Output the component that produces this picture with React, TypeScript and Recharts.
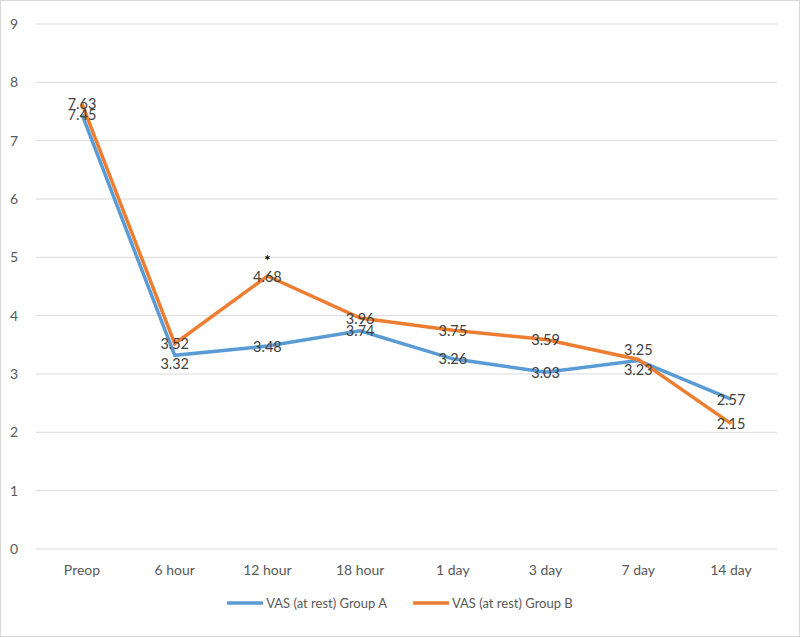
import React from "react";
import { LineChart, Line, XAxis, YAxis, CartesianGrid, Legend, LabelList } from "recharts";

const categories = ["Preop", "6 hour", "12 hour", "18 hour", "1 day", "3 day", "7 day", "14 day"];
const groupA = [7.45, 3.32, 3.48, 3.74, 3.26, 3.03, 3.23, 2.57];
const groupB = [7.63, 3.52, 4.68, 3.96, 3.75, 3.59, 3.25, 2.15];
const significance = ["", "", "*", "", "", "", "", ""];
const yTicks = [0, 1, 2, 3, 4, 5, 6, 7, 8, 9];

const NAME_A = "VAS (at rest) Group A";
const NAME_B = "VAS (at rest) Group B";
const BLUE = "#5B9BD5";
const ORANGE = "#ED7D31";
const FONT = "Lato, 'Open Sans', sans-serif";

const data = categories.map((c, i) => ({
  name: c,
  a: groupA[i],
  b: groupB[i],
  sig: significance[i],
}));

// push labels apart when the two series nearly coincide
const makeLabel = (own: number[], other: number[]) => (props: any) => {
  const { x, y, value, index } = props;
  if (x == null || y == null) return null;
  const diff = own[index] - other[index];
  let dy = 0;
  if (Math.abs(diff) < 0.1) dy = diff >= 0 ? -10 : 9;
  else if (index === 1 && diff < 0 && Math.abs(diff) < 0.25) dy = 8;
  return (
    <text x={x} y={y + dy} textAnchor="middle" dominantBaseline="central" fontSize={14.5} fill="#404040" fontFamily={FONT}>
      {Number(value).toFixed(2)}
    </text>
  );
};

const LabelA = makeLabel(groupA, groupB);
const LabelB = makeLabel(groupB, groupA);

const SigLabel = (props: any) => {
  const { x, y, value } = props;
  if (!value) return null;
  return (
    <text x={x} y={y - 16} textAnchor="middle" dominantBaseline="central" fontSize={15} fontWeight="bold" fill="#000" fontFamily={FONT}>
      {value}
    </text>
  );
};

const LegendContent = () => (
  <div style={{ display: "flex", justifyContent: "center", alignItems: "center", fontFamily: FONT, fontSize: 13, color: "#595959", gap: 26 }}>
    {[
      { name: NAME_A, color: BLUE },
      { name: NAME_B, color: ORANGE },
    ].map((it) => (
      <div key={it.name} style={{ display: "flex", alignItems: "center" }}>
        <svg width={36} height={10} style={{ marginRight: 3 }}>
          <line x1={0} y1={5} x2={36} y2={5} stroke={it.color} strokeWidth={3.5} />
        </svg>
        <span>{it.name}</span>
      </div>
    ))}
  </div>
);

export default function App() {
  return (
    <div style={{ position: "absolute", left: 0, top: 0, width: 800, height: 637, border: "1px solid #d9d9d9", boxSizing: "border-box", background: "#fff" }}>
      <LineChart width={798} height={635} data={data} margin={{ top: 23, right: 22, bottom: 57, left: 0 }}>
        <CartesianGrid vertical={false} stroke="#d9d9d9" strokeWidth={1} />
        <XAxis
          dataKey="name"
          axisLine={false}
          tickLine={false}
          tickMargin={10}
          padding={{ left: 46, right: 46 }}
          tick={{ fill: "#595959", fontSize: 14, fontFamily: FONT }}
          height={30}
          interval={0}
        />
        <YAxis
          width={35}
          domain={[0, 9]}
          ticks={yTicks}
          axisLine={false}
          tickLine={false}
          tick={{ fill: "#595959", fontSize: 14, fontFamily: FONT, dx: -10 }}
        />
        <Legend
          verticalAlign="middle"
          layout="horizontal"
          wrapperStyle={{ top: 594, left: 0, width: 798 }}
          content={<LegendContent />}
        />
        <Line type="linear" dataKey="a" name={NAME_A} stroke={BLUE} strokeWidth={3.5} dot={false} isAnimationActive={false}>
          <LabelList dataKey="a" content={<LabelA />} />
        </Line>
        <Line type="linear" dataKey="b" name={NAME_B} stroke={ORANGE} strokeWidth={3.5} dot={false} isAnimationActive={false}>
          <LabelList dataKey="b" content={<LabelB />} />
          <LabelList dataKey="sig" content={<SigLabel />} />
        </Line>
      </LineChart>
    </div>
  );
}
